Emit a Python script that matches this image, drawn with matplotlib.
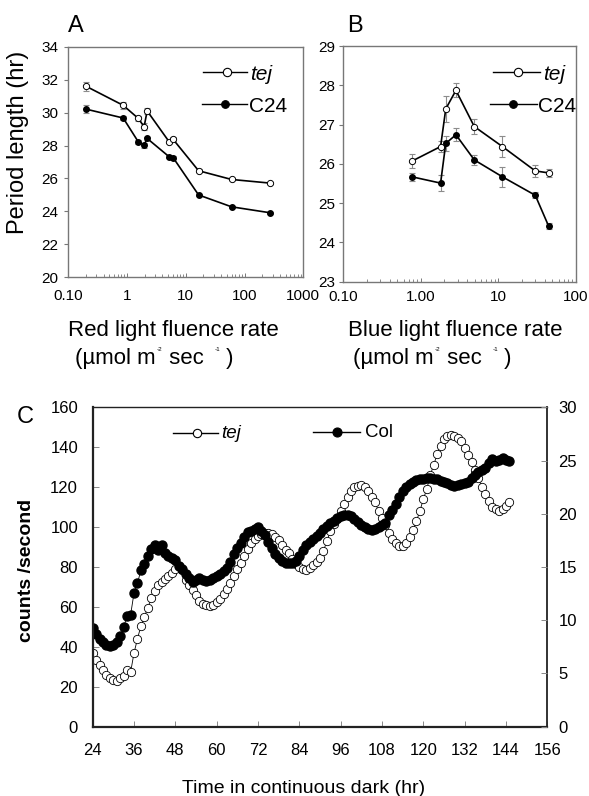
import numpy as np
import matplotlib
matplotlib.use('Agg')
import matplotlib.pyplot as plt
from matplotlib.lines import Line2D
from matplotlib.ticker import NullFormatter

plt.rcParams['font.family'] = ['Liberation Sans', 'DejaVu Sans']

W, H = 589, 796

# panel A - red light
red_x = [0.2, 0.86, 1.55, 1.95, 2.2, 5.2, 6.1, 16.5, 60, 270]
red_tej = [31.6, 30.44, 29.65, 29.14, 30.1, 28.23, 28.37, 26.47, 25.94, 25.72]
red_tej_err = [0.27, 0.2, 0.15, 0.22, 0.2, 0.1, 0.12, 0.08, 0.05, 0.05]
red_c24 = [30.21, 29.67, 28.23, 28.03, 28.43, 27.32, 27.26, 25.0, 24.28, 23.92]
red_c24_err = [0.25, 0.15, 0.12, 0.15, 0.1, 0.08, 0.08, 0.08, 0.05, 0.05]
red_ticks = [0.1, 1, 10, 100, 1000]
red_ticklabels = ['0.10', '1', '10', '100', '1000']

# panel B - blue light
blue_x = [0.77, 1.8, 2.1, 2.84, 4.9, 11.3, 30, 44.5]
blue_tej = [26.07, 26.44, 27.4, 27.87, 26.95, 26.44, 25.82, 25.77]
blue_tej_err = [0.17, 0.15, 0.33, 0.18, 0.2, 0.27, 0.15, 0.1]
blue_c24 = [25.67, 25.51, 26.52, 26.74, 26.1, 25.67, 25.2, 24.42]
blue_c24_err = [0.1, 0.2, 0.2, 0.17, 0.13, 0.25, 0.08, 0.07]
blue_ticks = [0.1, 1, 10, 100]
blue_ticklabels = ['0.10', '1.00', '10', '100']

# panel C - luminescence, hourly from 24 h
hours = np.arange(24, 146)
tej_counts = [36.8, 33.5, 31.0, 28.3, 26.0, 24.6, 23.3, 23.0, 24.2, 25.5,
              28.4, 27.2, 37.0, 44.0, 50.5, 55.0, 59.5, 64.5, 68.0, 71.0,
              72.6, 74.0, 75.5, 77.0, 78.8, 80.5, 78.5, 73.5, 70.8, 68.5,
              65.8, 63.2, 61.5, 60.8, 60.5, 61.2, 62.6, 64.0, 66.5, 69.0,
              72.0, 75.5, 79.0, 82.2, 85.5, 89.0, 91.8, 94.0, 95.5, 96.3,
              96.8, 96.9, 96.3, 95.0, 93.5, 91.0, 88.5, 87.0, 84.0, 81.5,
              80.0, 78.8, 78.3, 79.5, 81.0, 82.5, 84.4, 88.0, 93.0, 98.0,
              101.5, 104.0, 108.0, 111.5, 115.0, 118.2, 120.0, 120.8, 121.0, 120.2,
              118.0, 115.0, 112.5, 108.0, 104.5, 101.0, 97.0, 93.8, 91.8, 90.6,
              90.7, 92.0, 94.8, 98.5, 103.0, 108.0, 114.0, 119.0, 126.0, 131.0,
              136.5, 140.5, 144.0, 145.8, 146.2, 145.8, 144.5, 143.0, 139.5, 136.3,
              132.8, 128.6, 124.4, 120.2, 116.5, 113.0, 110.2, 109.0, 108.2, 108.9,
              110.6, 112.7]
col_counts = [49.6, 46.5, 44.0, 42.3, 41.0, 40.5, 41.0, 42.6, 45.5, 50.0,
              55.5, 56.0, 67.0, 71.8, 78.5, 81.5, 85.5, 89.0, 91.0, 88.5,
              91.0, 87.0, 85.5, 84.5, 83.5, 80.5, 78.8, 76.5, 74.5, 72.5,
              73.5, 74.5, 73.3, 73.1, 73.4, 74.5, 75.5, 76.5, 78.0, 79.5,
              82.5, 86.5, 89.5, 92.0, 95.0, 97.5, 98.2, 98.8, 99.8, 97.8,
              96.0, 92.5, 89.5, 86.5, 84.5, 82.8, 82.0, 81.9, 82.1, 82.8,
              85.5, 88.5, 90.8, 92.7, 94.2, 95.5, 96.9, 98.8, 100.5, 102.0,
              103.2, 104.3, 105.3, 106.1, 106.2, 105.5, 104.0, 102.5, 101.1, 100.0,
              99.2, 98.5, 98.9, 99.8, 100.8, 102.0, 106.0, 108.8, 111.5, 115.0,
              118.0, 120.2, 121.5, 122.8, 123.6, 123.9, 124.2, 124.4, 124.4, 124.3,
              123.9, 123.3, 122.8, 122.0, 121.0, 120.5, 121.2, 121.6, 121.9, 122.8,
              124.6, 126.2, 127.5, 128.6, 129.8, 132.0, 134.3, 133.0, 133.5, 134.5,
              133.4, 133.3]
c_xticks = list(range(24, 157, 12))
c_yticks = list(range(0, 161, 20))
c_y2ticks = list(range(0, 31, 5))

GREY = '#777777'


def fx(px):
    return px / W


def fy(py):
    return 1 - py / H


fig = plt.figure(figsize=(W / 100, H / 100), dpi=100)

axA = fig.add_axes([fx(68.3), fy(277.3), 235 / W, 230.6 / H])
axB = fig.add_axes([fx(343.3), fy(281.7), 232.5 / W, 235.7 / H])
axC = fig.add_axes([fx(92.7), fy(726.7), 454.6 / W, 319.4 / H])


def fluence_panel(ax, x, tej, tej_err, c24, c24_err, ticks, ticklabels, ylim, yticks, ypad, xpad):
    ax.errorbar(x, tej, yerr=tej_err, fmt='none', ecolor='#8c8c8c', elinewidth=0.8, capsize=2.5, capthick=0.8)
    ax.errorbar(x, c24, yerr=c24_err, fmt='none', ecolor='#8c8c8c', elinewidth=0.8, capsize=2.5, capthick=0.8)
    ax.plot(x, tej, '-o', color='k', lw=1.2, ms=4.5, mfc='white', mec='k', mew=0.7)
    ax.plot(x, c24, '-o', color='k', lw=1.2, ms=4, mfc='k', mec='k')
    ax.set_xscale('log')
    ax.set_xlim(ticks[0], ticks[-1])
    ax.set_ylim(*ylim)
    ax.set_xticks(ticks)
    ax.set_xticklabels(ticklabels)
    ax.xaxis.set_minor_formatter(NullFormatter())
    ax.set_yticks(yticks)
    for s in ax.spines.values():
        s.set_color(GREY)
        s.set_linewidth(1.0)
    ax.tick_params(axis='y', direction='out', length=3, width=0.8, color=GREY, labelsize=11, pad=ypad)
    ax.tick_params(axis='x', which='major', direction='in', length=3, width=0.7, color=GREY, labelsize=11, pad=xpad)
    ax.tick_params(axis='x', which='minor', direction='in', length=2, width=0.6, color=GREY)


fluence_panel(axA, red_x, red_tej, red_tej_err, red_c24, red_c24_err, red_ticks, red_ticklabels,
              (20, 34), list(range(20, 35, 2)), 4, 8.5)
fluence_panel(axB, blue_x, blue_tej, blue_tej_err, blue_c24, blue_c24_err, blue_ticks, blue_ticklabels,
              (23, 29), list(range(23, 30)), 2.7, 6)

# panel C
axC.plot(hours, tej_counts, '-o', color='k', lw=0.6, ms=6, mfc='white', mec='k', mew=0.6)
axC.plot(hours, col_counts, '-o', color='k', lw=0.6, ms=6.5, mfc='k', mec='k')
axC.set_xlim(24, 156)
axC.set_ylim(0, 160)
axC.set_xticks(c_xticks)
axC.set_yticks(c_yticks)
axC.tick_params(axis='both', direction='in', length=4, width=0.7, color='#888888', labelsize=12)
axC.tick_params(axis='x', pad=12)
axC.tick_params(axis='y', pad=10.5)
axC.spines['left'].set_linewidth(1.6)
axC.spines['bottom'].set_linewidth(1.6)
axC.spines['top'].set_linewidth(1.0)
axC.spines['right'].set_linewidth(1.3)
for s in axC.spines.values():
    s.set_color('#222222')

axC2 = axC.twinx()
axC2.set_ylim(0, 30)
axC2.set_yticks(c_y2ticks)
axC2.tick_params(axis='y', direction='in', length=4, width=0.7, color='#888888', labelsize=12, pad=8)
for s in axC2.spines.values():
    s.set_visible(False)


def legend_entry(x0, x1, xm, y, tx, tb, text, filled, ms, fs, italic=False):
    fig.add_artist(Line2D([fx(x0), fx(x1)], [fy(y), fy(y)], transform=fig.transFigure, color='k', lw=1.0))
    fig.add_artist(Line2D([fx(xm)], [fy(y)], transform=fig.transFigure, marker='o', ms=ms,
                          mfc='k' if filled else 'white', mec='k', mew=0.8, lw=0))
    fig.text(fx(tx), fy(tb), text, fontsize=fs, va='baseline', ha='left',
             style='italic' if italic else 'normal')


legend_entry(203, 247, 227, 72, 250, 79.5, 'tej', False, 6, 15, True)
legend_entry(202, 247, 225, 104, 249, 112, 'C24', True, 5.5, 15)
legend_entry(493, 540, 518, 72, 543, 79.5, 'tej', False, 6, 15, True)
legend_entry(490, 537, 513, 104, 538, 112, 'C24', True, 5.5, 15)
legend_entry(173, 218, 197, 433, 221, 438, 'tej', False, 6, 13.5, True)
legend_entry(313, 360, 337, 432, 365, 437, 'Col', True, 6.5, 13.5)

# panel letters
fig.text(fx(68.3), fy(31.7), 'A', fontsize=17, va='baseline')
fig.text(fx(346.7), fy(31.7), 'B', fontsize=17, va='baseline')
fig.text(fx(16.7), fy(423.3), 'C', fontsize=17, va='baseline')

# axis labels
fig.text(fx(18), fy(142), 'Period length (hr)', fontsize=17, rotation=90, ha='center', va='center')
fig.text(fx(68), fy(336), 'Red light fluence rate', fontsize=16, va='baseline')
fig.text(fx(348), fy(336), 'Blue light fluence rate', fontsize=16, va='baseline')
fig.text(fx(27), fy(570), 'counts /second', fontsize=14, fontweight='bold', rotation=90, ha='center', va='center')
fig.text(fx(181.7), fy(793), 'Time in continuous dark (hr)', fontsize=14, va='baseline')


def unit_label(ax, x_px, base_px):
    t1 = fig.text(fx(x_px), fy(base_px), '(\u00b5mol m', fontsize=16, va='baseline')
    s1 = ax.annotate('-2', xy=(1, fy(base_px - 13)), xycoords=(t1, 'figure fraction'),
                     xytext=(1, 0), textcoords='offset points', fontsize=4.5, va='baseline',
                     annotation_clip=False)
    t2 = ax.annotate(' sec', xy=(1, fy(base_px)), xycoords=(s1, 'figure fraction'),
                     fontsize=16, va='baseline', annotation_clip=False)
    s2 = ax.annotate('-1', xy=(1, fy(base_px - 13)), xycoords=(t2, 'figure fraction'),
                     xytext=(8, 0), textcoords='offset points', fontsize=4.5, va='baseline',
                     annotation_clip=False)
    ax.annotate(' )', xy=(1, fy(base_px)), xycoords=(s2, 'figure fraction'),
                fontsize=16, va='baseline', annotation_clip=False)


unit_label(axA, 75, 364)
unit_label(axB, 353, 364)

fig.savefig('out.png', dpi=100)
